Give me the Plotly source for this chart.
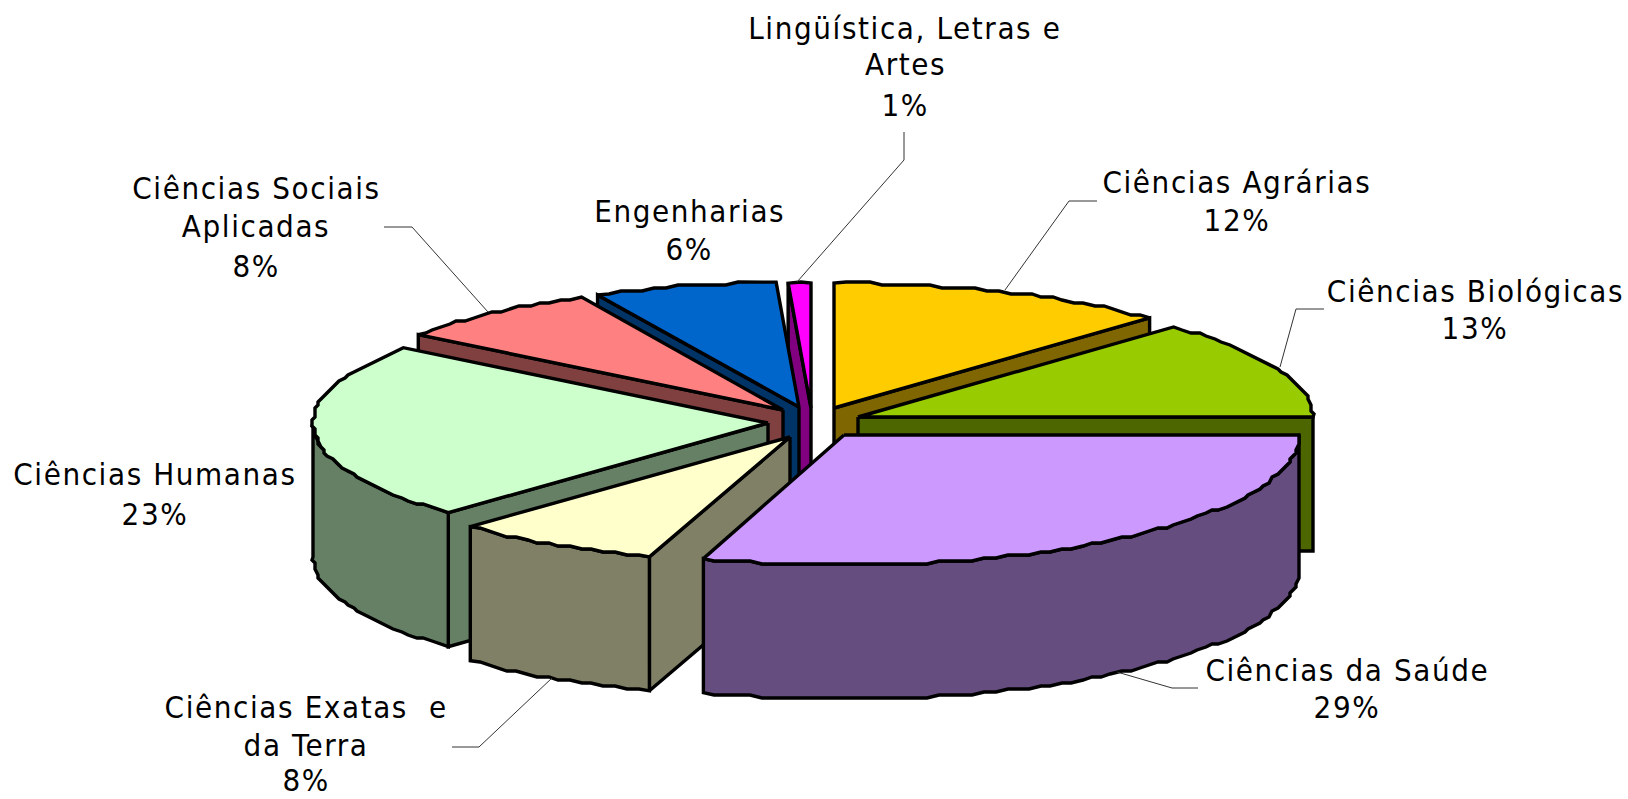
import math
import plotly.graph_objects as go

# ---- data ----
categories = ["Ciências Agrárias", "Ciências Biológicas", "Ciências da Saúde",
              "Ciências Exatas e da Terra", "Ciências Humanas",
              "Ciências Sociais Aplicadas", "Engenharias", "Lingüística, Letras e Artes"]
slice_sizes = [12.2, 12.8, 30.0, 7.4, 22.8, 7.5, 6.5, 0.8]
percent_labels = ["12%", "13%", "29%", "8%", "23%", "8%", "6%", "1%"]

# ---- styles and layout ----
top_colors = ["#FFCC00", "#99CC00", "#CC99FF", "#FFFFCC", "#CCFFCC", "#FF8080", "#0066CC", "#FF00FF"]
side_colors = ["#806600", "#4D6600", "#664D80", "#808066", "#668066", "#804040", "#003366", "#800080"]
apex = [(834, 408), (858, 417), (844, 435), (790, 437), (768, 423), (783, 410), (799, 407), (811, 408)]
radius_y = [125, 125, 130, 126, 126, 126, 125, 125]
RX, DEPTH = 455, 134
GRID = 3
draw_order = [7, 6, 5, 4, 3, 0, 1, 2]

label_lines = [
    (1237, [("Ciências Agrárias", 182), ("12%", 220)]),
    (1475, [("Ciências Biológicas", 291), ("13%", 328)]),
    (1347, [("Ciências da Saúde", 670), ("29%", 707)]),
    (306, [("Ciências Exatas  e", 707), ("da Terra", 745), ("8%", 780)]),
    (155, [("Ciências Humanas", 474), ("23%", 514)]),
    (256, [("Ciências Sociais", 188), ("Aplicadas", 226), ("8%", 266)]),
    (689, [("Engenharias", 211), ("6%", 249)]),
    (905, [("Lingüística, Letras e", 28), ("Artes", 64), ("1%", 105)]),
]
leaders = [
    ([1097, 1069, 1005], [201, 201, 290]),
    ([1324, 1296, 1280], [309, 309, 367]),
    ([1198, 1172, 1117], [688, 688, 672]),
    ([452, 479, 552], [747, 747, 678]),
    ([384, 412, 488], [227, 227, 312]),
    ([904, 904, 797], [132, 160, 282]),
]


def rim_point(center, deg, ry):
    t = math.radians(deg)
    return center[0] + RX * math.sin(t), center[1] - ry * math.cos(t)


def arc(center, d0, d1, ry):
    """Rim of a slice from angle d0 to d1; snapped to a coarse grid like the low-res original."""
    n = max(2, int(abs(d1 - d0) / 1.5))
    pts = [rim_point(center, d0 + (d1 - d0) * i / n, ry) for i in range(n + 1)]
    out = [pts[0]]
    for p in pts[1:-1]:
        out.append((round(p[0] / GRID) * GRID, round(p[1] / GRID) * GRID))
    out.append(pts[-1])
    return out


fig = go.Figure()


def poly(points, color):
    xs = [p[0] for p in points] + [points[0][0]]
    ys = [p[1] for p in points] + [points[0][1]]
    fig.add_trace(go.Scatter(x=xs, y=ys, mode="lines", fill="toself", fillcolor=color,
                             line=dict(color="black", width=3.4), hoverinfo="skip", showlegend=False))


total = sum(slice_sizes)
bounds = [0.0]
for v in slice_sizes:
    bounds.append(bounds[-1] + v / total * 360)


def down(p):
    return (p[0], p[1] + DEPTH)


for i in draw_order:
    a0, a1 = bounds[i], bounds[i + 1]
    c, ry = apex[i], radius_y[i]
    side = side_colors[i]
    # radial walls that face the viewer
    if a0 >= 180:
        p = rim_point(c, a0, ry)
        poly([c, p, down(p), down(c)], side)
    if a1 <= 100:
        p = rim_point(c, a1, ry)
        poly([c, p, down(p), down(c)], side)
    # outer rim where it faces the viewer
    r0, r1 = max(a0, 90), min(a1, 270)
    if r1 > r0:
        top = arc(c, r0, r1, ry)
        poly(top + [down(p) for p in reversed(top)], side)
    # top face
    poly([c] + arc(c, a0, a1, ry), top_colors[i])

for xs, ys in leaders:
    fig.add_trace(go.Scatter(x=xs, y=ys, mode="lines", line=dict(color="#333333", width=1),
                             hoverinfo="skip", showlegend=False))

for cx, lines in label_lines:
    for text, y in lines:
        fig.add_annotation(x=cx, y=y, xref="x", yref="y", text=text, showarrow=False,
                           xanchor="center", yanchor="middle",
                           font=dict(family="DejaVu Sans Condensed, DejaVu Sans", size=31, color="black"))

fig.update_layout(width=1628, height=799, margin=dict(l=0, r=0, t=0, b=0),
                  paper_bgcolor="white", plot_bgcolor="white", hovermode=False,
                  xaxis=dict(range=[0, 1628], visible=False, fixedrange=True),
                  yaxis=dict(range=[799, 0], visible=False, fixedrange=True))

post = """
document.body.style.margin='0';
document.querySelectorAll('.annotation-text').forEach(function(t){t.style.letterSpacing='1.6px';t.style.whiteSpace='pre';});
document.querySelectorAll('.scatterlayer .js-line').forEach(function(t){t.style.strokeLinejoin='miter';});
"""
fig.write_html("out.html", post_script=post, config={"displayModeBar": False})
